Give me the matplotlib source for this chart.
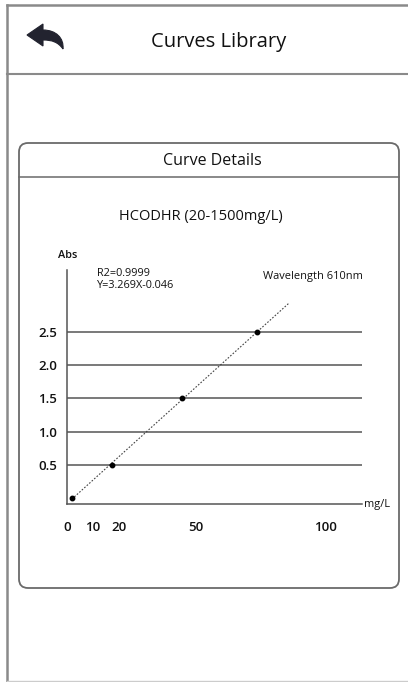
import numpy as np
import matplotlib
matplotlib.use('Agg')
import matplotlib.pyplot as plt
from matplotlib.patches import FancyBboxPatch, PathPatch
from matplotlib.path import Path

plt.rcParams['font.family'] = ['Open Sans', 'DejaVu Sans']

# calibration data
conc = [2, 17.5, 44.7, 73.6]
absorb = [0.0, 0.5, 1.5, 2.5]
x_ticks = [0, 10, 20, 50, 100]
y_ticks = [0.5, 1.0, 1.5, 2.0, 2.5]
line_end = 86

W, H = 408, 682
fig = plt.figure(figsize=(W / 100, H / 100), dpi=100)

# background axes in pixel coords for the phone UI
bg = fig.add_axes([0, 0, 1, 1])
bg.set_xlim(0, W)
bg.set_ylim(H, 0)
bg.axis('off')

frame = '#8a8a8a'
bg.plot([7, 7], [5, H], color=frame, lw=1.8)
bg.plot([7, W], [5, 5], color=frame, lw=1.8)
bg.plot([7, W], [74, 74], color=frame, lw=1.5)
bg.plot([7, W], [H - 1, H - 1], color='#cccccc', lw=1)

# back arrow
verts = [(27, 35), (43, 24), (43, 30),
         (56, 30), (64, 38), (63, 49),
         (58, 42), (52, 40), (43, 40),
         (43, 46), (27, 35)]
codes = [Path.MOVETO, Path.LINETO, Path.LINETO,
         Path.CURVE4, Path.CURVE4, Path.CURVE4,
         Path.CURVE4, Path.CURVE4, Path.CURVE4,
         Path.LINETO, Path.CLOSEPOLY]
bg.add_patch(PathPatch(Path(verts, codes), facecolor='#22232f', edgecolor='#22232f', lw=0.8))

txt = '#111111'
bg.text(219, 42, 'Curves Library', fontsize=14.5, ha='center', va='center', color=txt)

# card
card = FancyBboxPatch((19, 143), 380, 445, boxstyle='round,pad=0,rounding_size=9',
                      facecolor='white', edgecolor='#6a6a6a', lw=1.3)
bg.add_patch(card)
bg.plot([19, 399], [177, 177], color='#6a6a6a', lw=1.1)
bg.text(212, 161, 'Curve Details', fontsize=11.5, ha='center', va='center', color=txt)
bg.text(201, 216, 'HCODHR (20-1500mg/L)', fontsize=10.5, ha='center', va='center', color=txt)
bg.text(68, 255, 'Abs', fontsize=7.8, ha='center', va='center', color=txt, fontweight='semibold')
bg.text(97, 273, 'R2=0.9999', fontsize=7.8, ha='left', va='center', color=txt)
bg.text(97, 286, 'Y=3.269X-0.046', fontsize=7.8, ha='left', va='center', color=txt)
bg.text(263, 276, 'Wavelength 610nm', fontsize=7.9, ha='left', va='center', color=txt)
bg.text(364, 504, 'mg/L', fontsize=7.9, ha='left', va='center', color=txt)

# chart axes
x0, x1, y0, y1 = 66.7, 362, 504, 270
ax = fig.add_axes([x0 / W, 1 - y0 / H, (x1 - x0) / W, (y0 - y1) / H])
ax.set_facecolor('none')
ax.set_xlim(0, 114)
ax.set_ylim(-0.09, 3.43)
for s in ['top', 'right']:
    ax.spines[s].set_visible(False)
for s in ['left', 'bottom']:
    ax.spines[s].set_color('#555555')
    ax.spines[s].set_linewidth(1.1)
ax.set_xticks(x_ticks)
ax.set_xticklabels([str(t) for t in x_ticks])
ax.set_yticks(y_ticks)
ax.set_yticklabels([f'{t:.1f}' for t in y_ticks])
ax.tick_params(length=0, labelsize=9.5, colors=txt)
ax.tick_params(axis='x', pad=12)
ax.tick_params(axis='y', pad=7)
for lab in ax.get_xticklabels() + ax.get_yticklabels():
    lab.set_fontweight('semibold')
ax.grid(axis='y', color='#555555', lw=1.1)
ax.grid(axis='x', visible=False)

k, b = np.polyfit(conc, absorb, 1)
lx = np.array([conc[0], line_end])
ax.plot(lx, k * lx + b, color='#444444', lw=0.8, linestyle=(0, (1.5, 1.5)))
ax.plot(conc, absorb, 'o', color='black', markersize=3.2)

fig.savefig('out.png', dpi=100)
